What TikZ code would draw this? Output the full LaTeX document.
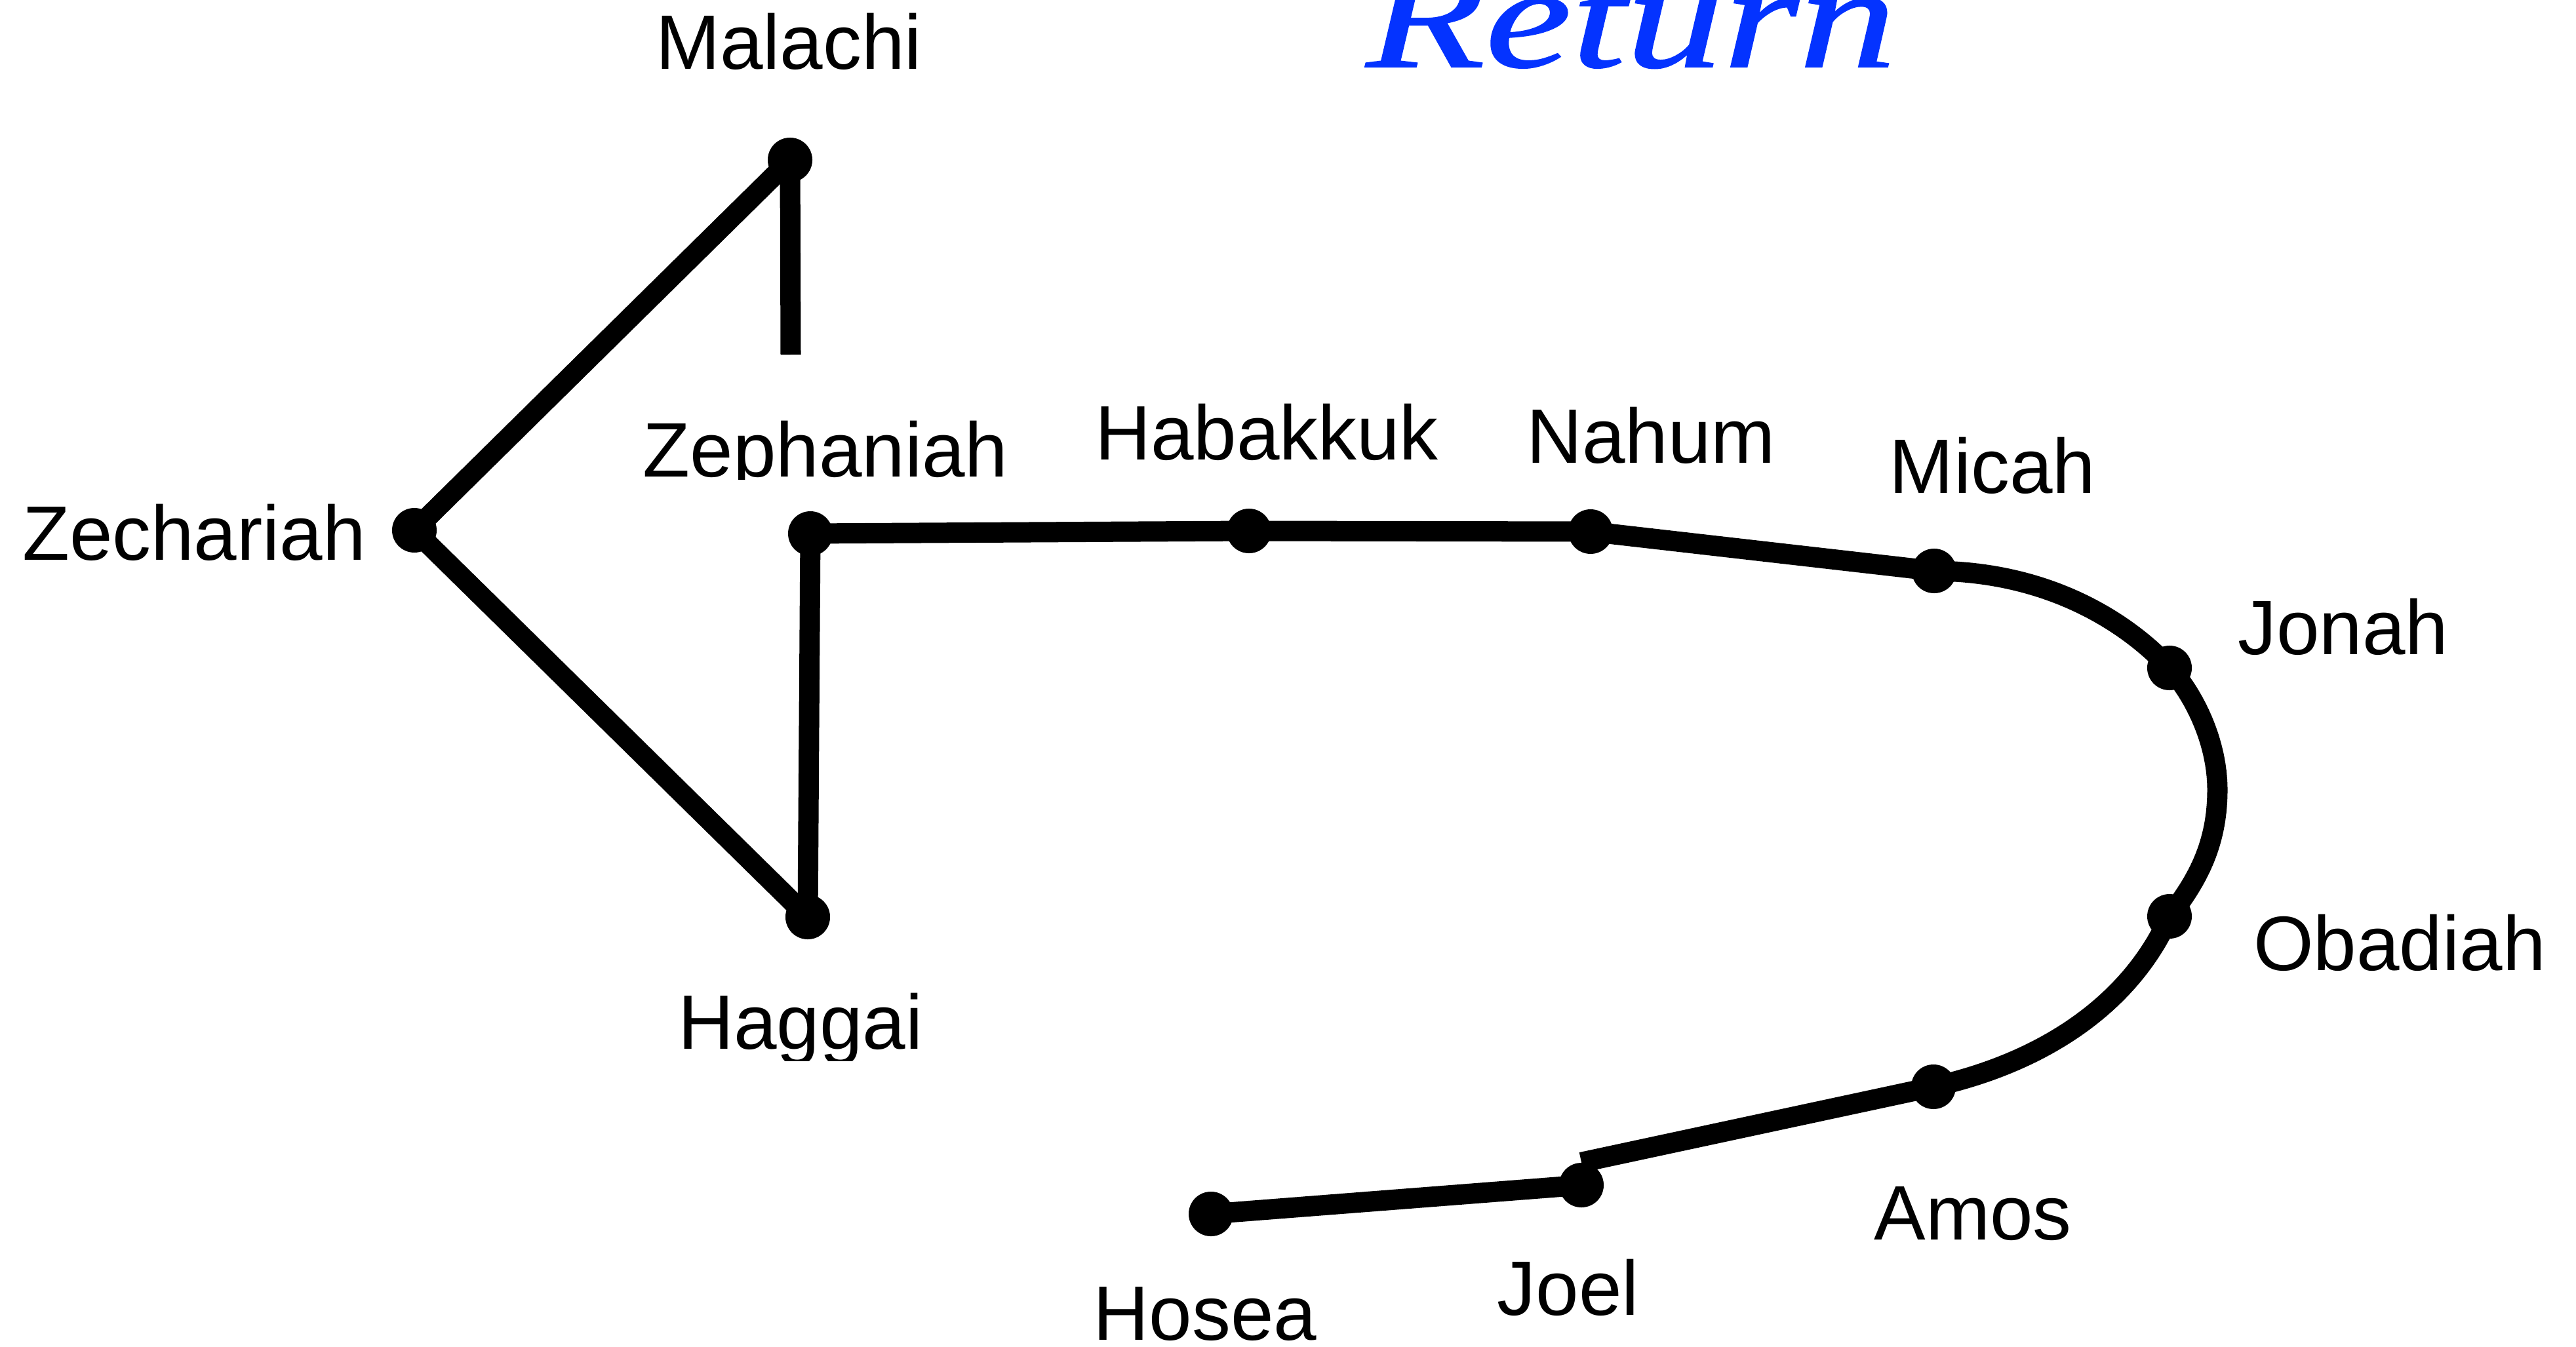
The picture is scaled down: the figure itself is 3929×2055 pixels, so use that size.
\documentclass[tikz,border=0pt]{standalone}
\usepackage{fontspec}
\setmainfont{Liberation Sans}
\newfontfamily\titlefont[ItalicFeatures={FakeBold=0.8}]{Liberation Serif}
\usetikzlibrary{backgrounds}
\definecolor{titleblue}{RGB}{4,51,255}
\begin{document}
\begin{tikzpicture}[x=0.01cm,y=-0.01cm,
  lbl/.style={inner sep=0pt,anchor=base,font=\fontsize{33.5}{40}\selectfont},
  dot/.style={circle,fill=black,inner sep=0pt,minimum size=0.68cm},
  conn/.style={line width=0.31cm,line join=round}]
\useasboundingbox (0,0) rectangle (3929,2055);
\clip (0,0) rectangle (3929,2055);

% title
\node[inner sep=0pt,anchor=base,text=titleblue,font=\titlefont\itshape\fontsize{63.5}{70}\selectfont] (title) at (2488,102) {\scalebox{1.33}[1]{Return}};

% dots
\node[dot] (mal) at (1205,244) {};
\node[dot] (zec) at (632,809) {};
\node[dot] (hag) at (1232,1399) {};
\node[dot] (zep) at (1236,814) {};
\node[dot] (hab) at (1905,810) {};
\node[dot] (nah) at (2426,811) {};
\node[dot] (mic) at (2950,871) {};
\node[dot] (jon) at (3309,1019) {};
\node[dot] (oba) at (3309,1398) {};
\node[dot] (amo) at (2949,1658) {};
\node[dot] (joe) at (2412,1808) {};
\node[dot] (hos) at (1847,1852) {};
\coordinate (malend) at (1206,541);
\coordinate (rim) at (3382,1205);

% connectors
\begin{scope}[on background layer]
\draw[conn,line cap=butt] (mal.center) -- (malend);
\draw[conn] (mal.center) -- (zec.center) -- (hag.center) -- (zep.center) -- (hab.center) -- (nah.center) -- (mic.center);
\draw[conn] (mic.center) .. controls (3120,872) and (3240,945) .. (jon.center)
  .. controls (3345,1058) and (3382,1130) .. (rim)
  .. controls (3382,1290) and (3350,1345) .. (oba.center)
  .. controls (3250,1530) and (3120,1620) .. (amo.center);
\draw[conn] (amo.center) -- (joe.north);
\draw[conn] (joe.center) -- (hos.center);
\end{scope}

% labels
\node[lbl] (lmal) at (1203,106) {Malachi};
\node[lbl] (lzec) at (296,854) {Zechariah};
\begin{scope}
\clip (900,560) rectangle (1650,731);
\node[lbl] (lzep) at (1259,728) {Zephaniah};
\end{scope}
\node[lbl] (lhab) at (1932,702) {Habakkuk};
\node[lbl] (lnah) at (2518,706) {Nahum};
\node[lbl] (lmic) at (3039,752) {Micah};
\node[lbl] (ljon) at (3574,998) {Jonah};
\node[lbl] (loba) at (3660,1480) {Obadiah};
\node[lbl] (lamo) at (3009,1891) {Amos};
\node[lbl] (ljoe) at (2392,2006) {Joel};
\node[lbl] (lhos) at (1838,2044) {Hosea};
\begin{scope}
\clip (950,1450) rectangle (1500,1618);
\node[lbl] (lhag) at (1221,1600) {Haggai};
\end{scope}
\end{tikzpicture}
\end{document}
